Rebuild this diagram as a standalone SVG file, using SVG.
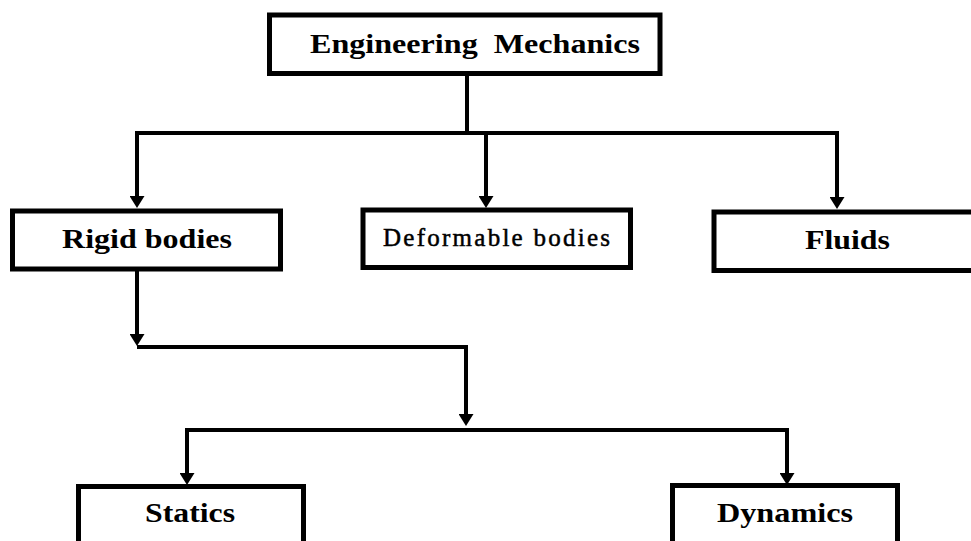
<svg xmlns="http://www.w3.org/2000/svg" width="971" height="541" viewBox="0 0 971 541">
<style>
.box{fill:#fff;stroke:#000;stroke-width:5}
.lbl{font-family:"Liberation Serif","Times New Roman",serif;font-weight:bold;font-size:27px;fill:#000}
.lbl2{font-family:"Liberation Serif","Times New Roman",serif;font-weight:normal;font-size:25px;fill:#000;stroke:#000;stroke-width:0.5}
.conn{fill:none;stroke:#000;stroke-width:4;stroke-linejoin:miter;stroke-linecap:butt}
</style>
<defs>
<marker id="arr" markerUnits="userSpaceOnUse" markerWidth="12" markerHeight="15" refX="2" refY="7.5" orient="auto" viewBox="0 0 12 15">
<path d="M0,0 L12,7.5 L0,15 Z" fill="#000"/>
</marker>
</defs>
<rect width="971" height="541" fill="#fff"/>
<g id="connectors">
<path class="conn" d="M467,73 V133"/>
<path class="conn" d="M135,133 H839"/>
<path class="conn" d="M137,133 V198" marker-end="url(#arr)"/>
<path class="conn" d="M486,133 V198" marker-end="url(#arr)"/>
<path class="conn" d="M837,133 V199" marker-end="url(#arr)"/>
<path class="conn" d="M137,269 V336" marker-end="url(#arr)"/>
<path class="conn" d="M137,347 H466 V416" marker-end="url(#arr)"/>
<path class="conn" d="M185,430 H789"/>
<path class="conn" d="M187,430 V475" marker-end="url(#arr)"/>
<path class="conn" d="M787,430 V475" marker-end="url(#arr)"/>
</g>
<g id="node-engineering-mechanics">
<rect class="box" x="269.5" y="15" width="390.5" height="58.5"/>
<text class="lbl" x="310" y="53" textLength="330" lengthAdjust="spacingAndGlyphs" xml:space="preserve">Engineering  Mechanics</text>
</g>
<g id="node-rigid-bodies">
<rect class="box" x="12.5" y="211" width="268" height="58"/>
<text class="lbl" x="62" y="248" textLength="170" lengthAdjust="spacingAndGlyphs">Rigid bodies</text>
</g>
<g id="node-deformable-bodies">
<rect class="box" x="363" y="210" width="267.5" height="57.5"/>
<text class="lbl2" x="383" y="246" textLength="227" lengthAdjust="spacing">Deformable bodies</text>
</g>
<g id="node-fluids">
<rect class="box" x="714" y="212" width="270" height="58.5"/>
<text class="lbl" x="805" y="249" textLength="85" lengthAdjust="spacingAndGlyphs">Fluids</text>
</g>
<g id="node-statics">
<rect class="box" x="78.5" y="486.5" width="225" height="70"/>
<text class="lbl" x="145" y="522" textLength="90" lengthAdjust="spacingAndGlyphs">Statics</text>
</g>
<g id="node-dynamics">
<rect class="box" x="672.5" y="485.5" width="225" height="70"/>
<text class="lbl" x="717" y="522" textLength="136" lengthAdjust="spacingAndGlyphs">Dynamics</text>
</g>
</svg>
